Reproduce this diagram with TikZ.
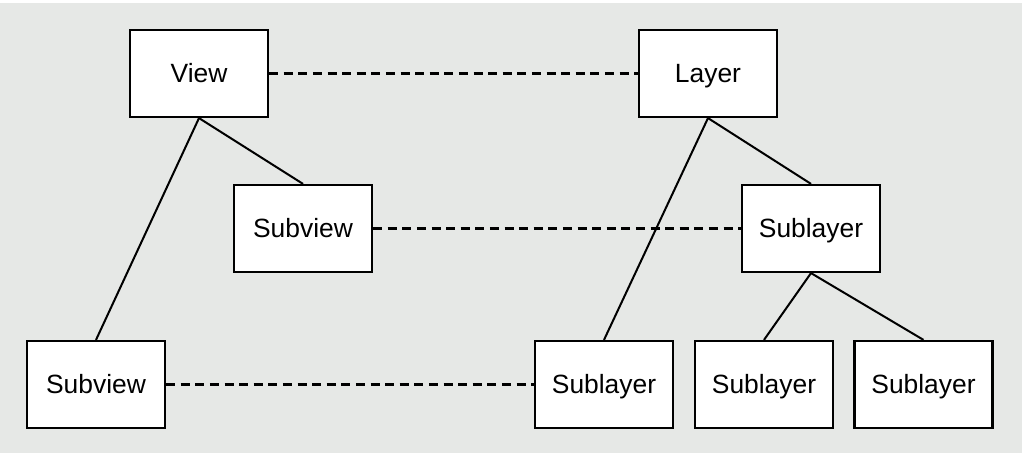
\documentclass[tikz,border=0pt]{standalone}
\usepackage{fontspec}
\setmainfont{Liberation Sans}
\definecolor{bg}{RGB}{230,232,230}
\begin{document}
\begin{tikzpicture}[x=0.5pt,y=-0.5pt,
  box/.style={draw=black,fill=white,line width=1.1pt,minimum width=69pt,minimum height=43.5pt,inner sep=0pt,text height=9.5pt,text depth=0pt,font=\fontsize{13.2}{16}\selectfont},
  link/.style={line width=1pt},
  dash link/.style={line width=1.1pt,dash pattern=on 4.5pt off 2.8pt}]
\useasboundingbox (0,0) rectangle (1024,453);
\fill[white] (0,0) rectangle (1024,453);
\fill[bg] (0,3) rectangle (1022,453);
\node[box] (view) at (199,73.5) {View};
\node[box] (layer) at (708,73.5) {Layer};
\node[box] (subview1) at (303,228.5) {Subview};
\node[box] (sublayer1) at (811,228.5) {Sublayer};
\node[box] (subview2) at (96,384.5) {Subview};
\node[box] (sublayer2) at (604,384.5) {Sublayer};
\node[box] (sublayer3) at (764,384.5) {Sublayer};
\node[box] (sublayer4) at (923.5,384.5) {Sublayer};
\draw[link] (view.south) -- (subview1.north);
\draw[link] (view.south) -- (subview2.north);
\draw[link] (layer.south) -- (sublayer1.north);
\draw[link] (layer.south) -- (sublayer2.north);
\draw[link] (sublayer1.south) -- (sublayer3.north);
\draw[link] (sublayer1.south) -- (sublayer4.north);
\draw[dash link] (view.east) -- (layer.west);
\draw[dash link] (subview1.east) -- (sublayer1.west);
\draw[dash link] (subview2.east) -- (sublayer2.west);
\end{tikzpicture}
\end{document}
